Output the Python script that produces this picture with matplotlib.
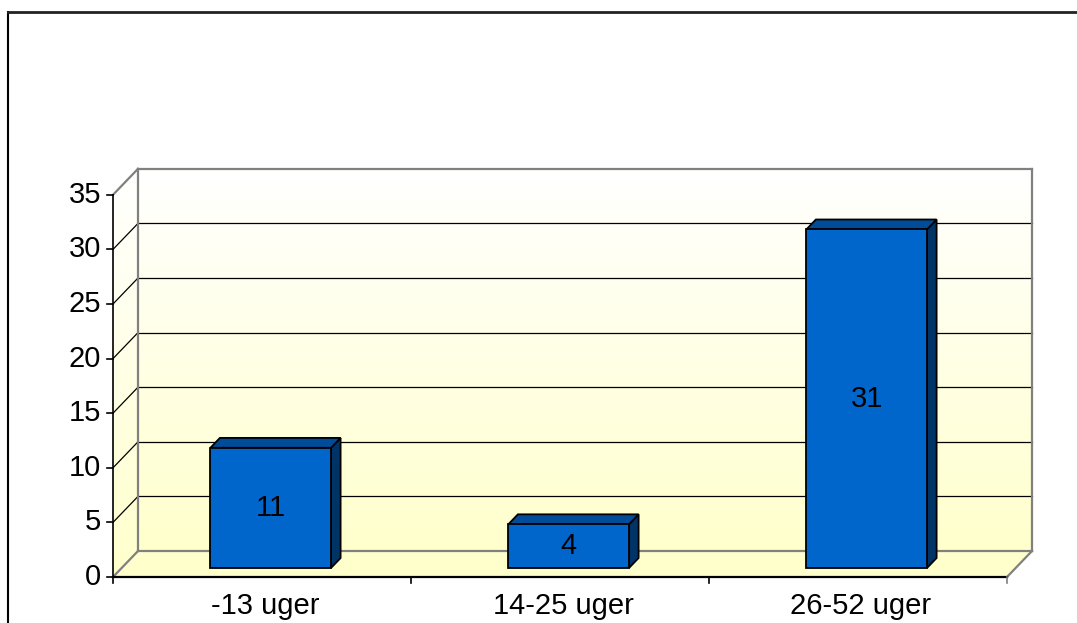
import matplotlib.pyplot as plt
import numpy as np
from matplotlib.patches import Polygon
from matplotlib.lines import Line2D

plt.rcParams['font.family'] = ['Liberation Sans', 'DejaVu Sans']

# data
categories = ['-13 uger', '14-25 uger', '26-52 uger']
values = [11, 4, 31]
y_ticks = [0, 5, 10, 15, 20, 25, 30, 35]

W, H = 1077, 623
fig = plt.figure(figsize=(W / 100, H / 100), dpi=100)
ax = fig.add_axes([0, 0, 1, 1])
ax.set_axis_off()

# pixel layout of the front plane: x = 113 + 298*c, y = 577 - 10.94*v
x0, cw = 113.0, 298.0
y0, vu = 577.0, 10.92
ax.set_xlim(-x0 / cw, (W - x0) / cw)
ax.set_ylim(-(H - y0) / vu, y0 / vu)

DX = 25 / cw      # depth shift in category units
DY = 26 / vu      # depth shift in value units
ncat = len(categories)
vmax = y_ticks[-1]
fs = 21


def d(c, v, f):
    """point at category c, value v, depth fraction f (0 front, 1 back)"""
    return (c + DX * f, v + DY * f)


# back wall gradient
yellow = np.array([1.0, 1.0, 0.80])
white = np.array([1.0, 1.0, 1.0])
t = np.linspace(0, 1, 256)[:, None]
grad = (white * (1 - t) + yellow * t)[:, None, :]
grad = np.repeat(grad, 2, axis=1)
bx0, by0 = d(0, 0, 1)
bx1, by1 = d(ncat, vmax, 1)
ax.imshow(grad, extent=[bx0, bx1, by0, by1], aspect='auto', zorder=1,
          interpolation='bilinear')

# side wall gradient clipped to parallelogram
side = Polygon([d(0, 0, 0), d(0, 0, 1), d(0, vmax, 1), d(0, vmax, 0)],
               closed=True, facecolor='none', edgecolor='none')
ax.add_patch(side)
sx0, _ = d(0, 0, 0)
im = ax.imshow(grad, extent=[sx0, bx0, 0, vmax + DY], aspect='auto', zorder=1,
               interpolation='bilinear')
im.set_clip_path(side)

# floor
ax.add_patch(Polygon([d(0, 0, 0), d(ncat, 0, 0), d(ncat, 0, 1), d(0, 0, 1)],
                     closed=True, facecolor='#FFFFCC', edgecolor='none', zorder=1))

gray = '#808080'
# grid lines on back wall and side wall
for v in y_ticks:
    col = gray if v in (0, vmax) else 'black'
    lw = 1.6 if v in (0, vmax) else 0.9
    p0, p1 = d(0, v, 1), d(ncat, v, 1)
    ax.plot([p0[0], p1[0]], [p0[1], p1[1]], color=col, lw=lw, zorder=2)
    q0 = d(0, v, 0)
    ax.plot([q0[0], p0[0]], [q0[1], p0[1]], color=col, lw=lw, zorder=2)

# wall edges
for a, b in [(d(0, 0, 1), d(0, vmax, 1)), (d(ncat, 0, 1), d(ncat, vmax, 1)),
             (d(ncat, 0, 0), d(ncat, 0, 1))]:
    ax.plot([a[0], b[0]], [a[1], b[1]], color=gray, lw=1.6, zorder=2)

# front axes
ax.plot([0, 0], [0, vmax], color='black', lw=1.2, zorder=3)
ax.plot([0, ncat], [0, 0], color='black', lw=1.6, zorder=3)
tick_len = 6 / cw
for v in y_ticks:
    ax.plot([-tick_len, 0], [v, v], color='black', lw=1.2, zorder=3)
    ax.text(-12 / cw, v, str(v), ha='right', va='center', fontsize=fs, zorder=3)
for c in range(ncat + 1):
    ax.plot([c, c], [0, -6 / vu], color='black' if c < ncat else gray, lw=1.2, zorder=3)
for i, name in enumerate(categories):
    ax.text(i + 0.51, -29 / vu, name, ha='center', va='center', fontsize=fs, zorder=3)

# bars
f0, f1 = 0.35, 0.73
bw = 0.405
for i, v in enumerate(values):
    l = i + 0.5 - bw / 2
    r = l + bw
    front = [d(l, 0, f0), d(r, 0, f0), d(r, v, f0), d(l, v, f0)]
    top = [d(l, v, f0), d(r, v, f0), d(r, v, f1), d(l, v, f1)]
    rside = [d(r, 0, f0), d(r, 0, f1), d(r, v, f1), d(r, v, f0)]
    ax.add_patch(Polygon(rside, closed=True, facecolor='#003366',
                         edgecolor='black', lw=1.3, zorder=5))
    ax.add_patch(Polygon(top, closed=True, facecolor='#004C99',
                         edgecolor='black', lw=1.3, zorder=5))
    ax.add_patch(Polygon(front, closed=True, facecolor='#0066CC',
                         edgecolor='black', lw=1.3, zorder=6))
    cx, cy = d((l + r) / 2, v / 2, f0)
    ax.text(cx, cy, str(v), ha='center', va='center', fontsize=fs, zorder=7)

# outer chart frame (left and top edges visible)
fig.add_artist(Line2D([8 / W, 8 / W], [0, 1 - 12 / H], color='black', lw=1.5))
fig.add_artist(Line2D([8 / W, 1], [1 - 12 / H, 1 - 12 / H], color='#222222', lw=2))

fig.savefig('out.png', dpi=100)
